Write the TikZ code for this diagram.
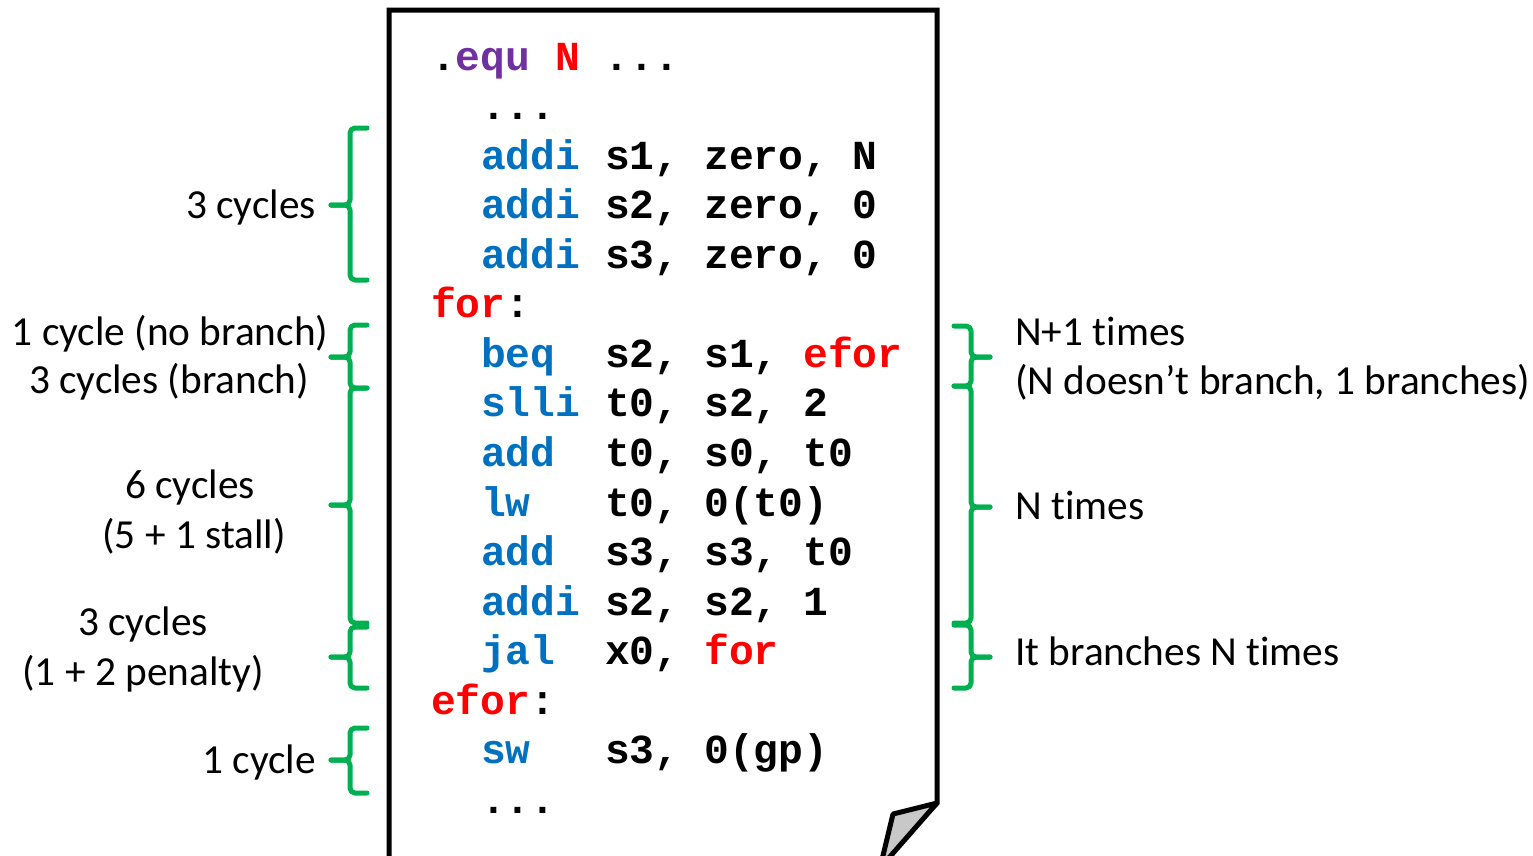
\documentclass[tikz,border=0pt]{standalone}
\usepackage{fontspec}
\setmonofont{Liberation Mono}
\setsansfont{Carlito}[Ligatures={NoCommon}]
\definecolor{insblue}{HTML}{0070C0}
\definecolor{lblred}{HTML}{FF0000}
\definecolor{dirpurple}{HTML}{7030A0}
\definecolor{bracegreen}{HTML}{00B050}
\definecolor{foldgray}{HTML}{C8C8C8}
\newcommand\Ins[1]{\textcolor{insblue}{#1}}
\newcommand\Lbl[1]{\textcolor{lblred}{#1}}
\begin{document}
\begin{tikzpicture}[x=1pt,y=-1pt,
  codeline/.style={anchor=base west,inner sep=0pt,
    font=\fontsize{41.3}{49.5}\selectfont\ttfamily\bfseries\frenchspacing},
  lbl/.style={inner sep=0pt,font=\fontsize{41.3}{49.5}\selectfont\sffamily},
  brace/.style={draw=bracegreen,line width=5pt,rounded corners=5pt,line cap=round,line join=round},
  page/.style={draw=black,line width=5pt,fill=white,line join=miter},
  fold/.style={draw=black,line width=5pt,fill=foldgray,line join=round}]
\useasboundingbox (0,0) rectangle (1533,855);
% page
\draw[page] (389,870) -- (389,10) -- (937,10) -- (937,803) -- (870,870);
\draw[fold] (937,803) -- (893,814) -- (880,868) -- cycle;
% code
\node[codeline] (l0)  at (431,70)    {.\textcolor{dirpurple}{equ}~\Lbl{N}~...};
\node[codeline] (l1)  at (481,119.6) {...};
\node[codeline] (l2)  at (481,169.1) {\Ins{addi}~s1,~zero,~N};
\node[codeline] (l3)  at (481,218.7) {\Ins{addi}~s2,~zero,~0};
\node[codeline] (l4)  at (481,268.2) {\Ins{addi}~s3,~zero,~0};
\node[codeline] (l5)  at (431,317.8) {\Lbl{for}:};
\node[codeline] (l6)  at (481,367.3) {\Ins{beq}~~s2,~s1,~\Lbl{efor}};
\node[codeline] (l7)  at (481,416.9) {\Ins{slli}~t0,~s2,~2};
\node[codeline] (l8)  at (481,466.4) {\Ins{add}~~t0,~s0,~t0};
\node[codeline] (l9)  at (481,516.0) {\Ins{lw}~~~t0,~0(t0)};
\node[codeline] (l10) at (481,565.5) {\Ins{add}~~s3,~s3,~t0};
\node[codeline] (l11) at (481,615.1) {\Ins{addi}~s2,~s2,~1};
\node[codeline] (l12) at (481,664.6) {\Ins{jal}~~x0,~\Lbl{for}};
\node[codeline] (l13) at (431,714.2) {\Lbl{efor}:};
\node[codeline] (l14) at (481,763.7) {\Ins{sw}~~~s3,~0(gp)};
\node[codeline] (l15) at (481,813.3) {...};
% left braces
\foreach \t/\m/\b in {128/205/280, 325/357/388, 388/505/623, 627/657/688, 728/760/793}{
  \draw[brace] (367,\t) -- (350,\t) -- (350,\m) -- (331,\m);
  \draw[brace] (331,\m) -- (350,\m) -- (350,\b) -- (367,\b);
}
% right braces
\foreach \t/\m/\b in {326/357/386, 386/507/623, 625/657/688}{
  \draw[brace] (954,\t) -- (971,\t) -- (971,\m) -- (990,\m);
  \draw[brace] (990,\m) -- (971,\m) -- (971,\b) -- (954,\b);
}
% left labels
\node[lbl,anchor=base east] (c1)  at (316,218) {3 cycles};
\node[lbl,anchor=base] (c2a) at (170,345) {1 cycle (no branch)};
\node[lbl,anchor=base] (c2b) at (169,393) {3 cycles (branch)};
\node[lbl,anchor=base] (c3a) at (190,498) {6 cycles};
\node[lbl,anchor=base] (c3b) at (194,548) {(5 + 1 stall)};
\node[lbl,anchor=base] (c4a) at (143,635) {3 cycles};
\node[lbl,anchor=base] (c4b) at (143,685) {(1 + 2 penalty)};
\node[lbl,anchor=base east] (c5)  at (316,773) {1 cycle};
% right labels
\node[lbl,anchor=base west] (r1a) at (1015,345) {N+1 times};
\node[lbl,anchor=base west] (r1b) at (1015,394) {(N doesn’t branch, 1 branches)};
\node[lbl,anchor=base west] (r2)  at (1015,519) {N times};
\node[lbl,anchor=base west] (r3)  at (1015,665) {It branches N times};
\end{tikzpicture}
\end{document}
